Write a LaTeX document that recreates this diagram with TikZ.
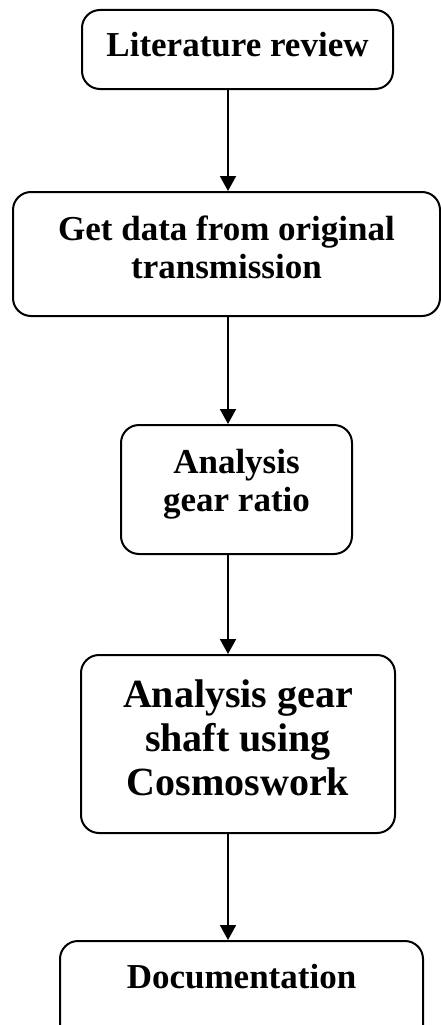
\documentclass[tikz,border=0pt]{standalone}
\usepackage{fontspec}
\setmainfont{Liberation Serif}
\usetikzlibrary{arrows.meta}
\begin{document}
\begin{tikzpicture}[x=1pt,y=-1pt,
  stepbox/.style={draw=black, line width=2pt, rounded corners=18pt, align=center,
    font=\bfseries\fontsize{35}{38.5}\selectfont, inner sep=0pt},
  arr/.style={line width=2pt, -{Triangle[length=15pt,width=16pt]}}]
\useasboundingbox (0,0) rectangle (441,1025);
\fill[white] (0,0) rectangle (441,1025);
\node[stepbox, minimum width=311pt, minimum height=79pt, text depth=10pt] (b1) at (237.5,49.5) {Literature review};
\node[stepbox, minimum width=427pt, minimum height=124pt, text depth=14pt] (b2) at (226.5,254) {Get data from original\\transmission};
\node[stepbox, minimum width=231pt, minimum height=129pt, text depth=18pt] (b3) at (236.5,489.5) {Analysis\\gear ratio};
\node[stepbox, minimum width=314pt, minimum height=178pt, font=\bfseries\fontsize{40}{44}\selectfont, text depth=12pt] (b4) at (238,744) {Analysis gear\\shaft using\\Cosmoswork};
\node[stepbox, minimum width=363pt, minimum height=104pt, text depth=34pt] (b5) at (241.5,993) {Documentation};
\coordinate (ax) at (228,0);
\draw[arr] (b1.south -| ax) -- (b2.north -| ax);
\draw[arr] (b2.south -| ax) -- (b3.north -| ax);
\draw[arr] (b3.south -| ax) -- (b4.north -| ax);
\draw[arr] (b4.south -| ax) -- (b5.north -| ax);
\end{tikzpicture}
\end{document}
